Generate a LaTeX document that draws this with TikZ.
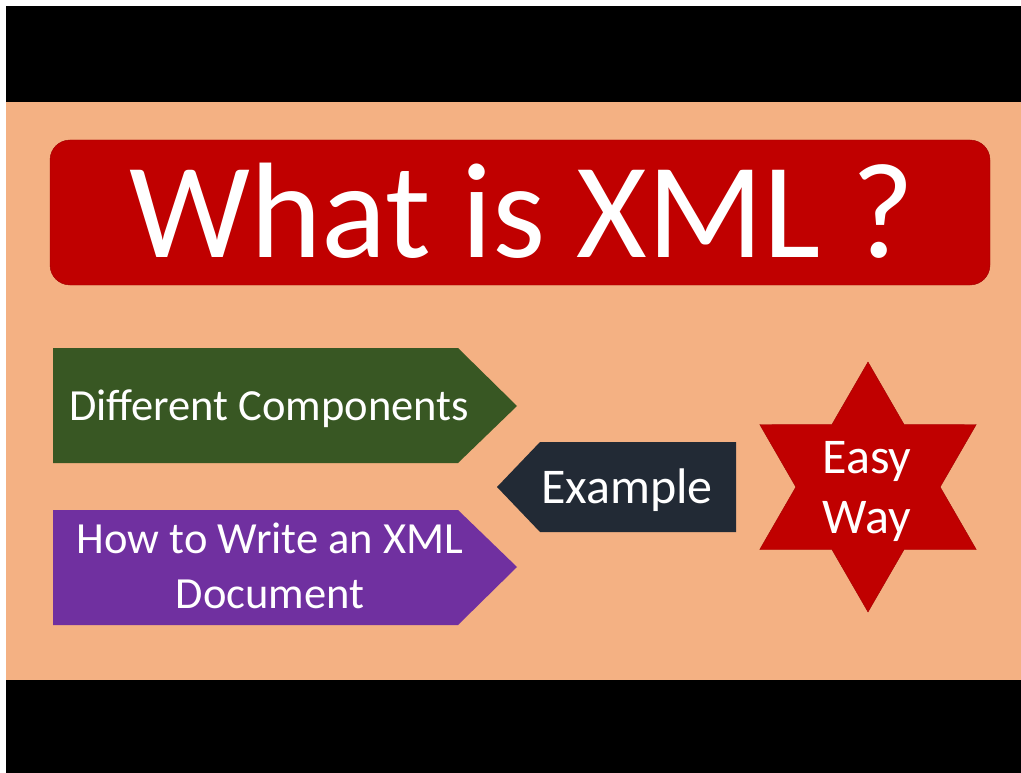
\documentclass[tikz,border=0pt]{standalone}
\usepackage{fontspec}
\setmainfont{Carlito}
\usetikzlibrary{shapes.geometric}

\definecolor{salmon}{HTML}{F4B183}
\definecolor{titlered}{HTML}{C00000}
\definecolor{leafgreen}{HTML}{385723}
\definecolor{plum}{HTML}{7030A0}
\definecolor{navy}{HTML}{222A35}

\tikzset{
  label text/.style={text=white, inner sep=0pt},
}

\begin{document}
\begin{tikzpicture}[x=1pt,y=-1pt]

    \useasboundingbox (0,0) rectangle (1021,773);

    % page and bars
    \fill[white] (0,0) rectangle (1021,773);
    \fill[black] (6,6) rectangle (1021,102);
    \fill[salmon] (6,102) rectangle (1021,680);
    \fill[black] (6,680) rectangle (1021,773);

    % title box
    \draw[titlered!85!black,fill=titlered,rounded corners=20pt] (50,140) rectangle (990,285);
    \node[label text,anchor=base,font=\fontsize{136}{136}\selectfont] (title) at (522,258) {What is XML ?};

    % right pointing arrows
    \fill[leafgreen] (53,348) -- (458,348) -- (517,406) -- (458,463) -- (53,463) -- cycle;
    \node[label text,anchor=base,font=\fontsize{44.5}{44.5}\selectfont] (components) at (269,420) {Different Components};

    \fill[plum] (53,510) -- (458,510) -- (517,567) -- (458,625) -- (53,625) -- cycle;
    \node[label text,align=center,font=\fontsize{44.5}{55}\selectfont] (howto) at (270,566) {How to Write an XML\\Document};

    % left pointing arrow
    \fill[navy] (736,442) -- (540,442) -- (497,487) -- (540,532) -- (736,532) -- cycle;
    \node[label text,anchor=base,font=\fontsize{50}{50}\selectfont] (example) at (627,503) {Example};

    % star
    \node[star,star points=6,star point ratio=1.732,minimum size=250pt,inner sep=0pt,
          fill=titlered,draw=titlered!85!black] (star) at (868,487) {};
    \node[label text,align=center,font=\fontsize{50}{60}\selectfont] (easyway) at (867,491) {Easy\\Way};

\end{tikzpicture}
\end{document}
